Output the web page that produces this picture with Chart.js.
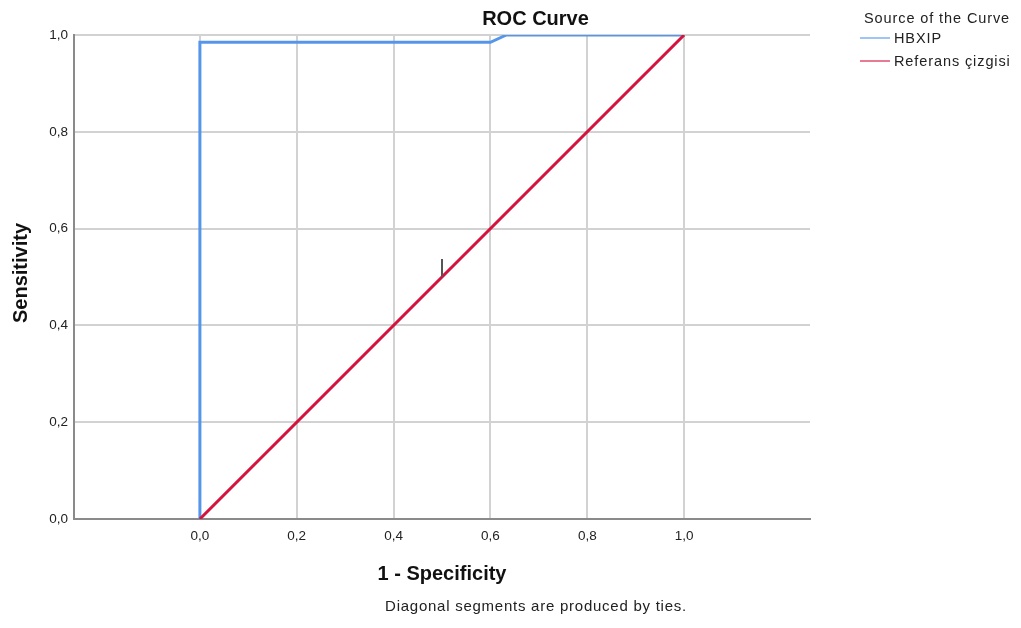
<!DOCTYPE html>
<html>
<head>
<meta charset="utf-8">
<title>ROC Curve</title>
<script src="https://cdn.jsdelivr.net/npm/chart.js@4/dist/chart.umd.min.js"></script>
<style>
  html, body { margin: 0; padding: 0; background: #ffffff; }
  #wrap { width: 1021px; height: 628px; position: relative; }
</style>
</head>
<body>
<div id="wrap"><canvas id="roc" width="1021" height="628"></canvas></div>
<script>
// ROC coordinates (1 - specificity, sensitivity)
const hbxipFpr = [0, 0, 0.6, 0.633, 1];
const hbxipTpr = [0, 0.985, 0.985, 1, 1];
const referenceFpr = [0, 1];
const referenceTpr = [0, 1];
// small vertical marker on the reference line
const tieMarkFpr = [0.5, 0.5];
const tieMarkTpr = [0.5, 0.537];

const axisTicks = [0, 0.2, 0.4, 0.6, 0.8, 1.0];
const seriesNames = ['HBXIP', 'Referans çizgisi'];
const seriesColors = ['#5596ea', '#d4143f'];

const FONT = '"Liberation Sans", Arial, sans-serif';

const toPoints = (xs, ys) => xs.map((x, i) => ({ x: x, y: ys[i] }));
const fmt = v => Number(v).toFixed(1).replace('.', ',');

// titles, legend and footnote
const textPlugin = {
  id: 'rocText',
  afterDraw(chart) {
    const ctx = chart.ctx;
    ctx.save();
    ctx.fillStyle = '#111';
    ctx.textBaseline = 'alphabetic';

    ctx.font = 'bold 20px ' + FONT;
    ctx.textAlign = 'center';
    ctx.fillText('ROC Curve', 535.5, 25);

    ctx.fillText('1 - Specificity', 442, 580);

    ctx.save();
    ctx.translate(27, 273);
    ctx.rotate(-Math.PI / 2);
    ctx.fillText('Sensitivity', 0, 0);
    ctx.restore();

    ctx.font = '15px ' + FONT;
    ctx.fillStyle = '#222';
    ctx.letterSpacing = '0.75px';
    ctx.fillText('Diagonal segments are produced by ties.', 536, 611);

    ctx.textAlign = 'left';
    ctx.font = '14.5px ' + FONT;
    ctx.letterSpacing = '0.9px';
    ctx.fillText('Source of the Curve', 864, 23);
    const rows = [38, 61];
    seriesNames.forEach((name, i) => {
      ctx.strokeStyle = seriesColors[i];
      ctx.globalAlpha = 0.75;
      ctx.lineWidth = 1.5;
      ctx.beginPath();
      ctx.moveTo(860, rows[i]);
      ctx.lineTo(890, rows[i]);
      ctx.stroke();
      ctx.globalAlpha = 1;
      ctx.fillText(name, 894, rows[i] + 5);
    });
    ctx.restore();
  }
};

new Chart(document.getElementById('roc'), {
  type: 'line',
  data: {
    datasets: [
      {
        label: seriesNames[1],
        data: toPoints(referenceFpr, referenceTpr),
        borderColor: seriesColors[1],
        borderWidth: 3,
        pointRadius: 0,
        order: 1
      },
      {
        label: seriesNames[0],
        data: toPoints(hbxipFpr, hbxipTpr),
        borderColor: seriesColors[0],
        borderWidth: 3,
        pointRadius: 0,
        order: 2
      },
      {
        label: 'marker',
        data: toPoints(tieMarkFpr, tieMarkTpr),
        borderColor: '#555555',
        borderWidth: 2,
        pointRadius: 0,
        order: 0
      }
    ]
  },
  options: {
    responsive: false,
    animation: false,
    devicePixelRatio: 1,
    layout: { padding: { left: 0, top: 35, right: 211, bottom: 0 } },
    plugins: {
      legend: { display: false },
      title: { display: false },
      tooltip: { enabled: false }
    },
    scales: {
      x: {
        type: 'linear',
        min: -0.26,
        max: 1.26,
        afterBuildTicks: s => { s.ticks = axisTicks.map(v => ({ value: v })); },
        afterFit: s => { s.height = 109; },
        grid: { color: '#d2d2d2', lineWidth: 2, drawTicks: false },
        border: { color: '#8a8a8a', width: 2 },
        ticks: {
          padding: 9,
          color: '#222',
          font: { family: FONT, size: 13.5 },
          maxRotation: 0,
          autoSkip: false,
          callback: v => fmt(v)
        }
      },
      y: {
        type: 'linear',
        min: 0,
        max: 1,
        afterBuildTicks: s => { s.ticks = axisTicks.map(v => ({ value: v })); },
        afterFit: s => { s.width = 74; },
        grid: { color: '#d2d2d2', lineWidth: 2, drawTicks: false },
        border: { color: '#8a8a8a', width: 2 },
        ticks: {
          padding: 6,
          color: '#222',
          font: { family: FONT, size: 13.5 },
          autoSkip: false,
          callback: v => fmt(v)
        }
      }
    }
  },
  plugins: [textPlugin]
});
</script>
</body>
</html>
